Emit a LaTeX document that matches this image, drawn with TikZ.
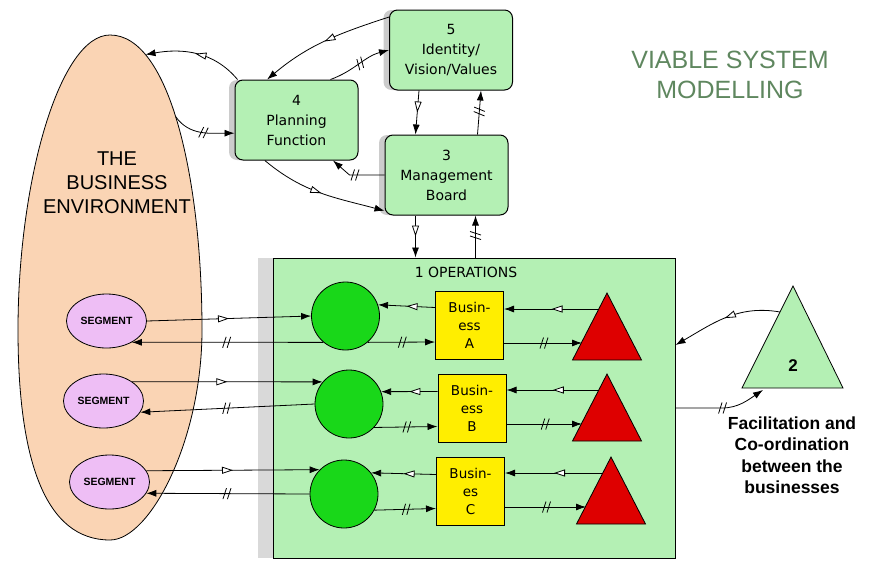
\documentclass[tikz,border=0pt]{standalone}
\usepackage{fontspec}
\setmainfont{Liberation Sans}
\newfontfamily\boxfont{DejaVu Sans}
\usetikzlibrary{arrows.meta,decorations.markings,shadows,shapes.geometric}

\definecolor{boxgreen}{RGB}{180,240,180}
\definecolor{opgreen}{RGB}{25,215,25}
\definecolor{busyellow}{RGB}{255,238,0}
\definecolor{trired}{RGB}{222,0,0}
\definecolor{segpink}{RGB}{238,190,245}
\definecolor{envpeach}{RGB}{250,212,180}
\definecolor{titlegreen}{RGB}{95,135,95}

\tikzset{
    sysbox/.style={draw, line width=1pt, rounded corners=8pt, fill=boxgreen,
        minimum width=123pt, minimum height=80pt, align=center,
        font=\boxfont\fontsize{14}{20}\selectfont,
        drop shadow={shadow xshift=-6pt, shadow yshift=0pt, fill=black!20, opacity=1}},
    opsbox/.style={draw, line width=1pt, fill=boxgreen, minimum width=402pt, minimum height=300pt,
        drop shadow={shadow xshift=-15pt, shadow yshift=0pt, fill=black!15, opacity=1}},
    busbox/.style={draw, line width=1pt, fill=busyellow, minimum width=68pt, minimum height=68pt,
        inner sep=0pt, align=center, font=\boxfont\fontsize{13.5}{18}\selectfont},
    opcircle/.style={circle, draw, fill=opgreen, minimum size=68pt, inner sep=0pt},
    segment/.style={ellipse, draw, fill=segpink, minimum width=80pt, minimum height=54pt,
        inner sep=0pt, font=\bfseries\fontsize{10.5}{12}\selectfont},
    envshape/.style={draw, fill=envpeach},
    redtri/.style={draw, fill=trired},
    infoflow/.style={-{Latex[length=10pt,width=7pt]},
        decoration={markings, mark=at position 0.5 with {\arrow{Triangle[length=11pt,width=7pt,fill=white]}}},
        postaction={decorate}},
    feedback/.style={-{Latex[length=10pt,width=7pt]},
        decoration={markings, mark=at position 0.5 with {\draw[-] (-3pt,-5.5pt) -- (0.5pt,5.5pt) (1.5pt,-5.5pt) -- (5pt,5.5pt);}},
        postaction={decorate}},
}

\begin{document}
\begin{tikzpicture}[x=1pt, y=-1pt, line width=0.8pt]
    \useasboundingbox (0,0) rectangle (872,560);
    %business environment
    \draw[envshape] (110,35) .. controls (170,35) and (202,180) .. (202,330)
        coordinate[pos=0.22] (env-a) coordinate[pos=0.47] (env-b)
        .. controls (202,440) and (150,540) .. (110,540)
        .. controls (45,540) and (18,460) .. (18,330)
        .. controls (18,180) and (60,35) .. (110,35) -- cycle;
    \node[font=\fontsize{20}{24}\selectfont, align=center] (envlabel) at (117,183) {THE\\BUSINESS\\ENVIRONMENT};
    \node[font=\fontsize{25}{30}\selectfont, text=titlegreen, align=center] (title) at (730,75) {VIABLE SYSTEM\\MODELLING};

    %operations
    \node[opsbox] (ops) at (474,408) {};
    \node[font=\boxfont\fontsize{14}{16}\selectfont] (opslabel) at (466,272) {1 OPERATIONS};

    %management boxes
    \node[sysbox] (five) at (451,50) {5\\Identity/\\Vision/Values};
    \node[sysbox] (four) at (296.5,120) {4\\Planning\\Function};
    \node[sysbox] (three) at (446.5,175) {3\\Management\\Board};

    %segments, operations and businesses
    \foreach \n/\x/\y in {1/106.5/321, 2/103.5/401, 3/109.5/482}
        {%
            \node[segment] (seg\n) at (\x,\y) {SEGMENT};
        }
    \foreach \n/\x/\y in {1/345.5/316, 2/349/404, 3/344/494}
        {%
            \node[opcircle] (c\n) at (\x,\y) {};
        }
    \node[busbox] (busA) at (469.5,325.5) {Busin-\\ess\\A};
    \node[busbox] (busB) at (472,408.5) {Busin-\\ess\\B};
    \node[busbox] (busC) at (470.5,491.5) {Busin-\\es\\C};
    \foreach \n/\x/\y in {A/607/293, B/607/374, C/611/457}
        {%
            \draw[redtri] (\x,\y) -- ++(34.5,67) -- ++(-69,0) -- cycle;
            \coordinate (tri\n-in) at (\x-8,\y+16);
            \coordinate (tri\n-out) at (\x-25,\y+50);
        }

    %system 2
    \draw[draw, fill=boxgreen] (793,286) -- (843,388) -- (742,388) -- cycle;
    \coordinate (tri2-in) at (780,312);
    \node[font=\bfseries\fontsize{17}{20}\selectfont] (two) at (793,366) {2};
    \node[font=\bfseries\fontsize{17.5}{21.5}\selectfont, align=center] (coordtext) at (792,455)
        {Facilitation and\\Co-ordination\\between the\\businesses};

    %draw links between management boxes
    \draw[infoflow] (five.152) to[out=198,in=40] (four.126);
    \draw[feedback] (four.50) to[out=20,in=195] (five.west);
    \draw[infoflow] ([xshift=3pt]four.north west) to[out=130,in=10] (env-a);
    \draw[feedback] (env-b) to[out=-55,in=180] (four.192);
    \draw[infoflow] (four.232) to[out=-40,in=165] (three.210);
    \draw[feedback] (three.west) -- ++(-35,0) -- (four.-48);
    \draw[infoflow] ([xshift=-32pt]five.south) -- ([xshift=-31pt]three.north);
    \draw[feedback] ([xshift=31pt]three.north) -- ([xshift=30pt]five.south);
    \draw[infoflow] ([xshift=-31pt]three.south) -- ([xshift=-31pt]three.south |- ops.north);
    \draw[feedback] ([xshift=29pt]three.south |- ops.north) -- ([xshift=29pt]three.south);

    %draw links of business A
    \draw[infoflow] (seg1.east) -- (c1.west);
    \draw[feedback] (c1.-130) -- (seg1.-40);
    \draw[infoflow] ([yshift=18pt]busA.west) -- (c1.19);
    \draw[feedback] (c1.-50) -- ([yshift=-16.5pt]busA.west);
    \draw[infoflow] (triA-in) -- (triA-in -| busA.east);
    \draw[feedback] (busA.east |- triA-out) -- (triA-out);
    %draw links of business B
    \draw[infoflow] (seg2.34) -- (c2.140);
    \draw[feedback] (c2.west) -- (seg2.-17);
    \draw[infoflow] ([yshift=17pt]busB.west) -- (c2.21);
    \draw[feedback] (c2.-43) -- ([yshift=-18pt]busB.west);
    \draw[infoflow] (triB-in) -- (triB-in -| busB.east);
    \draw[feedback] (busB.east |- triB-out) -- (triB-out);
    %draw links of business C
    \draw[infoflow] (seg3.17) -- (c3.135);
    \draw[feedback] (c3.west) -- (seg3.-17);
    \draw[infoflow] ([yshift=17pt]busC.west) -- (c3.38);
    \draw[feedback] (c3.-28) -- ([yshift=-17pt]busC.west);
    \draw[infoflow] (triC-in) -- (triC-in -| busC.east);
    \draw[feedback] (busC.east |- triC-out) -- (triC-out);

    %draw links of system 2
    \draw[infoflow] (tri2-in) to[out=170,in=30] ([yshift=63pt]ops.east);
    \draw[feedback] (ops.east) -- (722,408) .. controls (738,408) and (748,400) .. (763,390);
\end{tikzpicture}
\end{document}
